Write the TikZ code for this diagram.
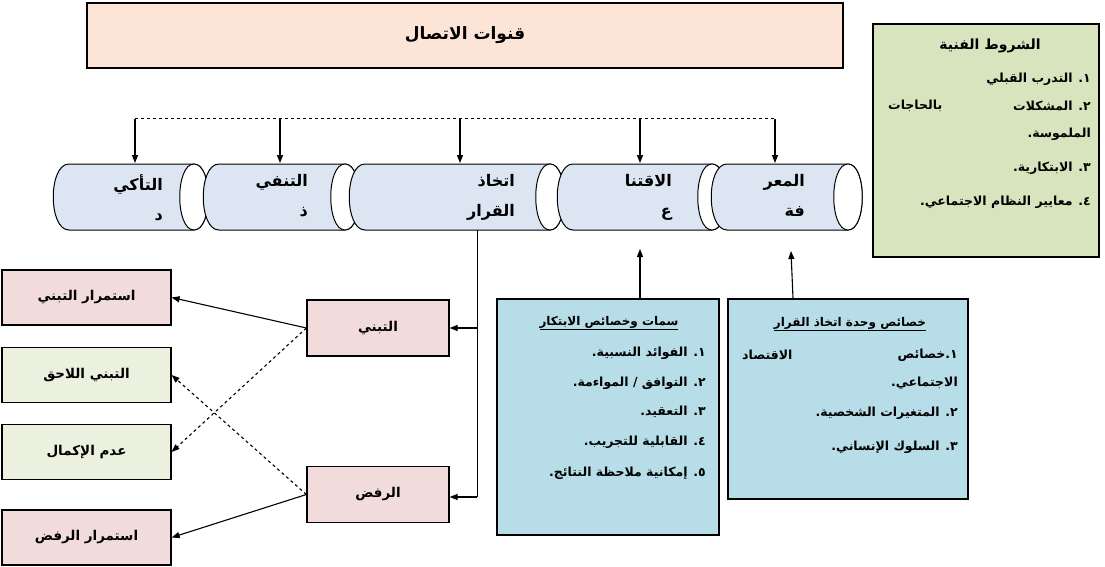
\documentclass[tikz,border=0pt]{standalone}
\usepackage{fontspec}
\TeXXeTstate=1
\newfontfamily\arabicfont[Script=Arabic]{DejaVu Sans}
\newcommand\ar[1]{{\arabicfont\bfseries\beginR #1\endR}}
\usetikzlibrary{arrows.meta}
\definecolor{peach}{HTML}{FCE4D6}
\definecolor{sage}{HTML}{D7E4BD}
\definecolor{cyl}{HTML}{DCE6F2}
\definecolor{pinkb}{HTML}{F2DCDB}
\definecolor{greenb}{HTML}{EBF1DE}
\definecolor{blueb}{HTML}{B7DEE8}
\tikzset{
 box/.style={draw=black,line width=1.2pt},
 arr/.style={line width=1.1pt,-{Triangle[length=8pt,width=6pt]}},
 txt/.style={inner sep=0pt,font=\fontsize{12.5}{14}\selectfont},
 ctxt/.style={inner sep=0pt,font=\fontsize{16}{30}\selectfont,align=right},
}
\newcommand\cylinder[3]{% left, right, name
 \fill[cyl,draw=black,line width=1pt] (#1+16,164) -- (#2,164) .. controls (#2+19,164) and (#2+19,230) .. (#2,230) -- (#1+16,230) .. controls (#1-5,230) and (#1-5,164) .. (#1+16,164) -- cycle;
 \draw[fill=white,line width=1pt] (#2,164) .. controls (#2+19,164) and (#2+19,230) .. (#2,230) .. controls (#2-19,230) and (#2-19,164) .. (#2,164) -- cycle;
 \coordinate (#3) at (#1+16,164);
}
\begin{document}
\begin{tikzpicture}[x=1pt,y=-1pt]
\useasboundingbox (0,0) rectangle (1105,567);
% title
\node[box,fill=peach,minimum width=756pt,minimum height=65pt,font=\fontsize{17}{19}\selectfont] (title) at (465,35.5) {\ar{قنوات الاتصال}};
% right box
\node[box,fill=sage,minimum width=226pt,minimum height=233pt] (cond) at (986,140.5) {};
\node[txt,font=\fontsize{14}{16}\selectfont] (c0) at (990,46) {\ar{الشروط الفنية}};
\node[txt,anchor=east] (c1) at (1091,79) {\ar{١. التدرب القبلي}};
\node[txt,anchor=east] (c2) at (1091,106) {\ar{٢. المشكلات}};
\node[txt,anchor=west] (c2b) at (888,106) {\ar{بالحاجات}};
\node[txt,anchor=east] (c3) at (1091,134) {\ar{الملموسة.}};
\node[txt,anchor=east] (c4) at (1091,168) {\ar{٣. الابتكارية.}};
\node[txt,anchor=east] (c5) at (1091,202) {\ar{٤. معايير النظام الاجتماعي.}};
% cylinders
\cylinder{53}{194}{k1}
\cylinder{203}{345}{k2}
\cylinder{349}{550}{k3}
\cylinder{557}{712}{k4}
\cylinder{711}{848}{k5}
\node[ctxt,anchor=north east] (t1) at (163,174) {\ar{التأكي}\\\ar{د}};
\node[ctxt,anchor=north east] (t2) at (308,174) {\ar{التنفي}\\\ar{ذ}};
\node[ctxt,anchor=north east] (t3) at (515,174) {\ar{اتخاذ}\\\ar{القرار}};
\node[ctxt,anchor=north east] (t4) at (672,174) {\ar{الاقتنا}\\\ar{ع}};
\node[ctxt,anchor=north east] (t5) at (805,174) {\ar{المعر}\\\ar{فة}};
% top dashed bus
\coordinate (b1) at (135,119); \coordinate (b2) at (280,119); \coordinate (b3) at (460,119);
\coordinate (b4) at (640,119); \coordinate (b5) at (775,119);
\draw[dashed,line width=1pt] (b1) -- (b5);
\foreach \i/\x in {1/135,2/280,3/460,4/640,5/775}{\draw[arr] (b\i) -- (\x,163);}
% left boxes
\tikzset{lb/.style={box,minimum width=169pt,minimum height=55pt,inner sep=0pt,font=\fontsize{13.5}{15}\selectfont}}
\node[lb,fill=pinkb] (l1) at (86.5,297.5) {\ar{استمرار التبني}};
\node[lb,fill=greenb] (l2) at (86.5,375) {\ar{التبني اللاحق}};
\node[lb,fill=greenb] (l3) at (86.5,452) {\ar{عدم الإكمال}};
\node[lb,fill=pinkb] (l4) at (86.5,537.5) {\ar{استمرار الرفض}};
\tikzset{mb/.style={box,fill=pinkb,minimum width=142pt,minimum height=56pt,inner sep=0pt,font=\fontsize{13.5}{15}\selectfont}}
\node[mb] (adopt) at (378,328) {\ar{التبني}};
\node[mb] (rej) at (378,494.5) {\ar{الرفض}};
\coordinate (d0) at (477,230);
\coordinate (d1) at (477,328);
\coordinate (d2) at (477,497);
\draw[line width=1pt] (d0) -- (d2);
\draw[arr] (d1) -- (adopt.east);
\draw[arr] (d2) -- (rej.east |- d2);
\draw[arr] (adopt.west) -- (l1.east);
\draw[arr] (rej.west) -- (l4.east);
\draw[arr,dashed] (adopt.west) -- (l3.east);
\draw[arr,dashed] (rej.west) -- (l2.east);
% blue boxes
\node[box,fill=blueb,minimum width=222pt,minimum height=236pt] (inn) at (608,417) {};
\node[box,fill=blueb,minimum width=240pt,minimum height=200pt] (dec) at (848,399) {};
\draw[arr] (inn.north -| 640,0) -- (640,249);
\draw[arr] (dec.north -| 793,0) -- (791,251);
\node[txt,font=\fontsize{12}{14}\selectfont] (i0) at (609,323) {\underline{\ar{سمات وخصائص الابتكار}}};
\node[txt,anchor=east] (i1) at (706,353) {\ar{١. الفوائد النسبية.}};
\node[txt,anchor=east] (i2) at (706,383) {\ar{٢. التوافق / المواءمة.}};
\node[txt,anchor=east] (i3) at (706,412) {\ar{٣. التعقيد.}};
\node[txt,anchor=east] (i4) at (706,442) {\ar{٤. القابلية للتجريب.}};
\node[txt,anchor=east] (i5) at (706,473) {\ar{٥. إمكانية ملاحظة النتائج.}};
\node[txt,font=\fontsize{12}{14}\selectfont] (e0) at (850,324) {\underline{\ar{خصائص وحدة اتخاذ القرار}}};
\node[txt,anchor=east] (e1) at (958,355) {\ar{١.خصائص}};
\node[txt,anchor=west] (e1b) at (742,355) {\ar{الاقتصاد}};
\node[txt,anchor=east] (e2) at (958,383) {\ar{الاجتماعي.}};
\node[txt,anchor=east] (e3) at (958,413) {\ar{٢. المتغيرات الشخصية.}};
\node[txt,anchor=east] (e4) at (958,447) {\ar{٣. السلوك الإنساني.}};
\end{tikzpicture}
\end{document}
